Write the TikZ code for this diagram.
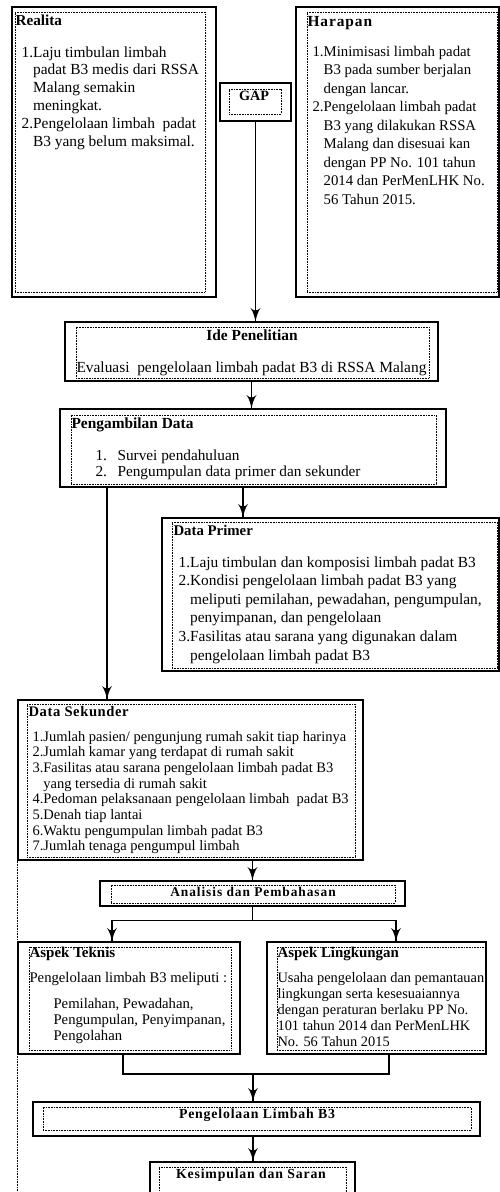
\documentclass[tikz,border=0pt]{standalone}
\usepackage{fontspec}
\setmainfont{Liberation Serif}
\usepackage{tikz}
\usetikzlibrary{arrows}
\usetikzlibrary{decorations.markings}
\usetikzlibrary{fit}
\tikzset{tip/.style = {decoration={markings,
                                   mark=at position 1 with {\arrow[scale=2.2]{latex'}}},
                       postaction={decorate}}}
\tikzset{outer/.style = {draw, line width=1.2pt, inner sep=0}}
\tikzset{dots/.style = {draw, line width=0.7pt, dash pattern=on 0.8pt off 0.8pt, inner sep=0}}
\tikzset{txt/.style = {anchor=base west, inner sep=0}}
\tikzset{head/.style = {anchor=base, inner sep=0}}

\begin{document}
\begin{tikzpicture}[x=1pt, y=-1pt, line width=1.1pt]
      \useasboundingbox (0,0) rectangle (500,1192);
      \clip (0,0) rectangle (500,1192);
      \node [outer, fit={(12,7) (216,297)}] (realita) {};
      \node [dots, fit={(15,12) (205,292)}] (realitadot) {};
      \node at (15,25) [txt, font=\fontsize{15.2}{17}\selectfont\bfseries] (realitahead) {Realita};
      \node at (21,57) [txt, font=\fontsize{15.4}{17.8}\selectfont] (realitalist) {\begin{tabular}[t]{@{}l@{}l@{}}
        1.&Laju timbulan limbah\\
        &padat B3 medis dari RSSA\\
        &Malang semakin\\
        &meningkat.\\
        2.&Pengelolaan limbah\ \ padat\\
        &B3 yang belum maksimal.
      \end{tabular}};
      \node [outer, fit={(296,7) (499,297)}] (harapan) {};
      \node [dots, fit={(307,12) (497,292)}] (harapandot) {};
      \node at (307,26) [txt, font=\fontsize{15.4}{17}\selectfont\bfseries\addfontfeature{LetterSpace=6}] (harapanhead) {Harapan};
      \node at (312,56) [txt, font=\fontsize{14.8}{18.5}\selectfont] (harapanlist) {\begin{tabular}[t]{@{}l@{}l@{}}
        1.&Minimisasi limbah padat\\
        &B3 pada sumber berjalan\\
        &dengan lancar.\\
        2.&Pengelolaan limbah padat\\
        &B3 yang dilakukan RSSA\\
        &Malang dan disesuai kan\\
        &dengan PP No. 101 tahun\\
        &2014 dan PerMenLHK No.\\
        &56 Tahun 2015.
      \end{tabular}};
      \node [outer, fit={(220,83) (291,121)}] (gap) {};
      \node [dots, fit={(229,89) (281,114)}] (gapdot) {};
      \node at (254,100) [head, font=\fontsize{14.2}{16}\selectfont\bfseries] (gaptext) {GAP};
      \node [outer, fit={(65,322) (438,381)}] (ide) {};
      \node [dots, fit={(76,327) (429,378)}] (idedot) {};
      \node at (252,340) [head, font=\fontsize{15.4}{17}\selectfont\bfseries] (idehead) {Ide Penelitian};
      \node at (76,372) [txt, font=\fontsize{15.4}{17}\selectfont] (idetext) {Evaluasi\ \ pengelolaan limbah padat B3 di RSSA Malang};
      \node [outer, fit={(60,409) (446,487)}] (ambil) {};
      \node [dots, fit={(71,415) (436,484)}] (ambildot) {};
      \node at (71,428) [txt, font=\fontsize{15.4}{17}\selectfont\bfseries] (ambilhead) {Pengambilan Data};
      \node at (95,460) [txt, font=\fontsize{15.3}{16}\selectfont] (ambillist) {\begin{tabular}[t]{@{}p{22pt}@{}l@{}}
        1.&Survei pendahuluan\\
        2.&Pengumpulan data primer dan sekunder
      \end{tabular}};
      \node [outer, fit={(162,518) (499,671)}] (primer) {};
      \node [dots, fit={(172,522) (497,668)}] (primerdot) {};
      \node at (173,535) [txt, font=\fontsize{14.8}{17}\selectfont\bfseries] (primerhead) {Data Primer};
      \node at (178,567) [txt, font=\fontsize{15.4}{18.6}\selectfont] (primerlist) {\begin{tabular}[t]{@{}l@{}l@{}}
        1.&Laju timbulan dan komposisi limbah padat B3\\
        2.&Kondisi pengelolaan limbah padat B3 yang\\
        &meliputi pemilahan, pewadahan, pengumpulan,\\
        &penyimpanan, dan pengelolaan\\
        3.&Fasilitas atau sarana yang digunakan dalam\\
        &pengelolaan limbah padat B3
      \end{tabular}};
      \node [outer, fit={(18,700) (363,860)}] (sekunder) {};
      \node [dots, fit={(27,704) (355,857)}] (sekunderdot) {};
      \node at (28,716) [txt, font=\fontsize{14.6}{17}\selectfont\bfseries\addfontfeature{LetterSpace=4}] (sekunderhead) {Data Sekunder};
      \node at (32,741) [txt, font=\fontsize{14.5}{15.7}\selectfont] (sekunderlist) {\begin{tabular}[t]{@{}l@{}l@{}}
        1.&Jumlah pasien/ pengunjung rumah sakit tiap harinya\\
        2.&Jumlah kamar yang terdapat di rumah sakit\\
        3.&Fasilitas atau sarana pengelolaan limbah padat B3\\
        &yang tersedia di rumah sakit\\
        4.&Pedoman pelaksanaan pengelolaan limbah\ \ padat B3\\
        5.&Denah tiap lantai\\
        6.&Waktu pengumpulan limbah padat B3\\
        7.&Jumlah tenaga pengumpul limbah
      \end{tabular}};
      \node [outer, fit={(100,881) (405,906)}] (analisis) {};
      \node [dots, fit={(111,885) (395,903)}] (analisisdot) {};
      \node at (253,896) [head, font=\fontsize{13.4}{15}\selectfont\bfseries\addfontfeature{LetterSpace=7}] (analisishead) {Analisis dan Pembahasan};
      \node [outer, fit={(18,942) (240,1054)}] (teknis) {};
      \node [dots, fit={(29,947) (231,1050)}] (teknisdot) {};
      \node at (29,957) [txt, font=\fontsize{15}{17}\selectfont\bfseries] (teknishead) {Aspek Teknis};
      \node at (29,982) [txt, font=\fontsize{14.7}{16}\selectfont] (teknistext) {Pengelolaan limbah B3 meliputi :};
      \node at (53,1008) [txt, font=\fontsize{14.7}{16}\selectfont] (teknislist) {\begin{tabular}[t]{@{}l@{}}
        Pemilahan, Pewadahan,\\
        Pengumpulan, Penyimpanan,\\
        Pengolahan
      \end{tabular}};
      \node [outer, fit={(267,942) (486,1054)}] (lingkungan) {};
      \node [dots, fit={(277,947) (485,1050)}] (lingkungandot) {};
      \node at (277,957) [txt, font=\fontsize{14.9}{17}\selectfont\bfseries] (lingkunganhead) {Aspek Lingkungan};
      \node at (277,982) [txt, font=\fontsize{14.4}{16}\selectfont] (lingkunganlist) {\begin{tabular}[t]{@{}l@{}}
        Usaha pengelolaan dan pemantauan\\
        lingkungan serta kesesuaiannya\\
        dengan peraturan berlaku PP No.\\
        101 tahun 2014 dan PerMenLHK\\
        No. 56 Tahun 2015
      \end{tabular}};
      \node [outer, fit={(33,1102) (480,1136)}] (kelola) {};
      \node [dots, fit={(43,1107) (471,1130)}] (keloladot) {};
      \node at (257,1118) [head, font=\fontsize{13.8}{15}\selectfont\bfseries\addfontfeature{LetterSpace=6}] (kelolahead) {Pengelolaan Limbah B3};
      \node [outer, fit={(150,1162) (355,1215)}] (simpul) {};
      \node [dots, fit={(159,1167) (346,1210)}] (simpuldot) {};
      \node at (251,1178) [head, font=\fontsize{13.8}{15}\selectfont\bfseries\addfontfeature{LetterSpace=6}] (simpulhead) {Kesimpulan dan Saran};
      \coordinate (split) at ([yshift=-14pt]analisis.south);
      \coordinate (merge) at (253,1074);
      \coordinate (bottom) at (0,1192);
      \draw [tip] (gap.south) -- (gap.south |- ide.north);
      \draw [tip] (ide.south) -- (ide.south |- ambil.north);
      \draw [tip] ([xshift=-10pt]ambil.south) -- ([xshift=-10pt]ambil.south |- primer.north);
      \draw [tip] ([xshift=-146pt]ambil.south) -- ([xshift=-146pt]ambil.south |- sekunder.north);
      \draw [tip] (analisis.north |- sekunder.south) -- (analisis.north);
      \draw (analisis.south) -- (split);
      \draw [tip] (split) -| ([xshift=-17pt]teknis.north);
      \draw [tip] (split) -| ([xshift=19.5pt]lingkungan.north);
      \draw ([xshift=-6pt]teknis.south) |- (merge);
      \draw ([xshift=12.5pt]lingkungan.south) |- (merge);
      \draw [tip] (merge) -- (merge |- kelola.north);
      \draw [tip] (merge |- kelola.south) -- (merge |- simpul.north);
      \draw [dots] (sekunder.south west) -- (sekunder.south west |- bottom);
    \end{tikzpicture}
\end{document}
